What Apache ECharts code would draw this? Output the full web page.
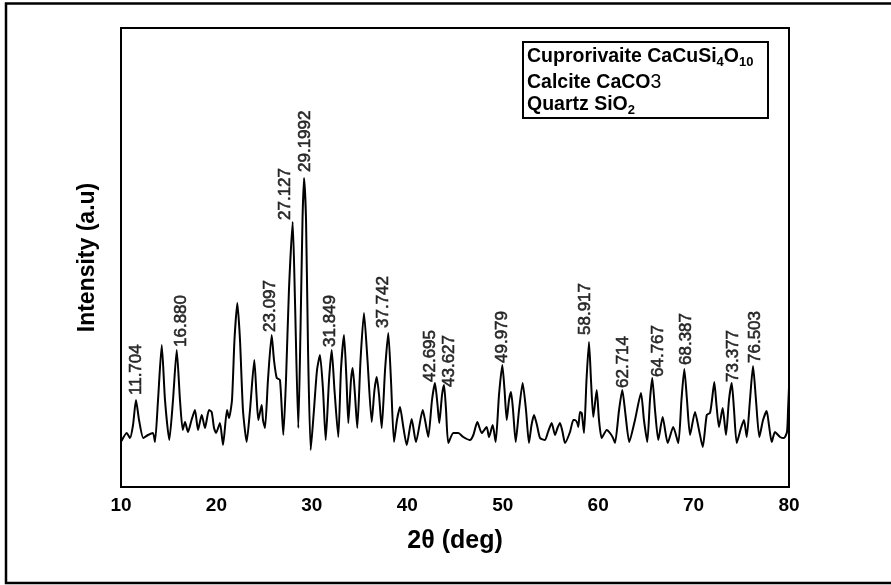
<!DOCTYPE html>
<html>
<head>
<meta charset="utf-8">
<script src="https://cdn.jsdelivr.net/npm/echarts@6/dist/echarts.min.js"></script>
<style>
html,body{margin:0;padding:0;background:#fff;}
#c{width:891px;height:585px;}
</style>
</head>
<body>
<div id="c"></div>
<script>
// 2θ positions (deg)
var twoTheta = [10.05,10.60,10.94,11.26,11.57,11.89,12.34,12.83,13.35,13.56,13.88,14.27,14.61,15.06,15.45,15.84,16.18,16.47,16.71,17.02,17.39,17.75,18.07,18.46,18.80,19.22,19.50,19.75,19.96,20.37,20.69,21.11,21.32,21.63,21.89,22.19,22.47,22.78,23.17,23.52,23.97,24.20,24.39,24.74,24.88,25.09,25.40,25.79,26.03,26.32,26.66,27.01,27.29,27.60,27.99,28.23,28.58,28.81,29.02,29.18,29.39,29.60,29.88,30.22,30.54,30.85,31.17,31.45,31.80,32.08,32.37,32.77,33.05,33.37,33.63,33.82,34.10,34.28,34.52,34.76,35.10,35.46,35.83,36.27,36.56,36.80,37.04,37.32,37.67,38.01,38.29,38.61,38.92,39.24,39.55,39.94,40.46,40.91,41.62,41.86,42.20,42.59,42.90,43.17,43.35,43.64,43.85,44.06,44.30,44.82,45.35,45.87,46.57,46.92,47.34,47.80,48.32,48.56,48.95,49.26,49.61,49.96,50.19,50.42,50.66,50.87,51.08,51.36,51.71,52.09,52.44,52.75,53.02,53.28,53.59,53.91,54.43,54.75,55.13,55.48,55.74,56.00,56.27,56.53,57.05,57.40,57.57,57.82,57.92,58.10,58.28,58.52,58.78,59.04,59.25,59.49,59.85,60.09,60.37,60.90,61.24,61.56,61.77,62.19,62.53,62.87,63.26,63.86,64.49,64.80,65.15,65.43,65.67,65.96,66.30,66.76,67.29,67.87,68.40,68.73,69.03,69.31,69.63,70.15,70.57,70.96,71.38,71.72,71.93,72.17,72.40,72.66,73.05,73.40,73.71,74.00,74.24,74.52,74.97,75.28,75.57,75.91,76.23,76.54,76.89,77.28,77.66,77.90,78.19,78.53,79.06,79.48,79.79,79.90,80.00];
// intensity (a.u.)
var intensity = [46,54,49,62,87,67,49,52,54,45,87,142,87,47,87,137,87,57,65,55,67,77,57,72,59,77,75,59,54,64,42,77,69,87,147,184,147,77,45,77,127,92,67,82,67,59,107,152,127,109,107,52,107,197,265,187,59,157,267,309,267,137,37,77,117,132,97,47,107,137,97,50,117,152,107,64,107,119,92,59,127,174,127,65,97,110,92,59,117,154,107,45,67,80,62,42,68,45,77,67,50,87,104,82,64,92,102,77,44,54,54,50,47,52,65,54,60,50,62,45,92,122,97,67,87,95,77,45,77,104,77,44,62,72,62,49,47,55,64,52,59,64,55,44,55,67,67,64,60,75,74,54,107,145,107,70,97,67,49,57,54,49,44,77,97,72,45,67,94,67,45,87,109,77,47,70,44,60,44,87,118,87,52,75,57,40,72,74,87,105,82,60,79,52,87,104,77,44,59,67,50,87,121,87,50,67,76,62,45,55,50,49,55,77,100];
// peak annotations
var peakLabels = ['11.704','16.880','23.097','27.127','29.1992','31.849','37.742','42.695','43.627','49.979','58.917','62.714','64.767','68.387','73.377','76.503'];
var peakLabelTheta = [11.65,16.36,25.61,27.19,29.28,31.90,37.49,42.45,44.40,49.96,58.62,62.61,66.27,69.28,74.13,76.44];
var peakLabelIntensity = [92,140,155,267,315,140,159,105,100,124,152,99,110,122,105,124];
// axis
var xMin = 10, xMax = 80, xStep = 10;
var yMin = 0, yMax = 459;
// legend text lines
var phaseNames = ['Cuprorivaite CaCuSi', 'Calcite CaCO', 'Quartz SiO'];

var FONT = '"Liberation Sans", Arial, sans-serif';
var lineData = twoTheta.map(function (t, i) { return [t, intensity[i]]; });
var labelData = peakLabelTheta.map(function (t, i) { return [t, peakLabelIntensity[i]]; });

var chart = echarts.init(document.getElementById('c'), null, {renderer: 'canvas'});
chart.setOption({
  backgroundColor: '#fff',
  animation: false,
  grid: {left: 121, right: 102, top: 28, bottom: 98, show: true, borderColor: '#000', borderWidth: 2, backgroundColor: 'transparent'},
  xAxis: {
    type: 'value', min: xMin, max: xMax, interval: xStep,
    axisLine: {show: false}, axisTick: {show: false}, splitLine: {show: false},
    axisLabel: {color: '#000', fontSize: 19, fontWeight: 'bold', fontFamily: FONT, margin: 9},
    name: '2θ (deg)', nameLocation: 'middle', nameGap: 42,
    nameTextStyle: {color: '#000', fontSize: 25, fontWeight: 'bold', fontFamily: FONT}
  },
  yAxis: {
    type: 'value', min: yMin, max: yMax,
    axisLine: {show: false}, axisTick: {show: false}, splitLine: {show: false},
    axisLabel: {show: false},
    name: 'Intensity (a.u)', nameLocation: 'middle', nameGap: 22,
    nameTextStyle: {color: '#000', fontSize: 23, fontWeight: 'bold', fontFamily: FONT}
  },
  series: [
    {
      type: 'line', data: lineData, symbol: 'none', smooth: 0.2,
      lineStyle: {color: '#000', width: 2}, z: 3
    },
    {
      type: 'scatter', data: labelData, symbolSize: 0.1,
      itemStyle: {color: 'rgba(0,0,0,0)'},
      label: {
        show: true, position: 'inside', rotate: 90, align: 'left', verticalAlign: 'middle',
        color: '#000', fontSize: 17, fontFamily: FONT,
        textBorderColor: '#000', textBorderWidth: 0.6,
        formatter: function (p) { return peakLabels[p.dataIndex]; }
      },
      z: 4
    }
  ],
  graphic: [
    {type: 'rect', shape: {x: 6, y: 3.5, width: 900, height: 579.5}, style: {fill: 'none', stroke: '#000', lineWidth: 2.5}, silent: true},
    {type: 'rect', shape: {x: 523, y: 42, width: 245, height: 76}, style: {fill: '#fff', stroke: '#000', lineWidth: 2}, z: 10},
    {type: 'text', x: 527, y: 57, z: 11, style: {
      text: '{b|' + phaseNames[0] + '}{s|4}{b|O}{s|10}',
      verticalAlign: 'middle',
      rich: {
        b: {fontSize: 19.5, fontWeight: 'bold', fontFamily: FONT, fill: '#000', lineHeight: 22},
        s: {fontSize: 13, fontWeight: 'bold', fontFamily: FONT, fill: '#000', lineHeight: 13, padding: [10, 0, 0, 0]}
      }
    }},
    {type: 'text', x: 527, y: 83, z: 11, style: {
      text: '{b|' + phaseNames[1] + '}{n|3}',
      verticalAlign: 'middle',
      rich: {
        b: {fontSize: 19.5, fontWeight: 'bold', fontFamily: FONT, fill: '#000', lineHeight: 22},
        n: {fontSize: 19.5, fontFamily: FONT, fill: '#000', lineHeight: 22}
      }
    }},
    {type: 'text', x: 527, y: 105, z: 11, style: {
      text: '{b|' + phaseNames[2] + '}{s|2}',
      verticalAlign: 'middle',
      rich: {
        b: {fontSize: 19.5, fontWeight: 'bold', fontFamily: FONT, fill: '#000', lineHeight: 22},
        s: {fontSize: 13, fontWeight: 'bold', fontFamily: FONT, fill: '#000', lineHeight: 13, padding: [10, 0, 0, 0]}
      }
    }}
  ]
});
</script>
</body>
</html>
